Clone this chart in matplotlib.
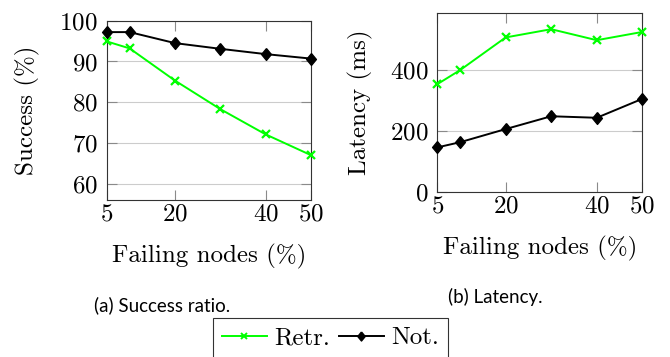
import matplotlib
matplotlib.use("Agg")
import matplotlib.pyplot as plt
from matplotlib.lines import Line2D

failing = [5, 10, 20, 30, 40, 50]
success_retr = [94.9, 93.2, 85.3, 78.3, 72.1, 67.0]
success_not = [97.2, 97.2, 94.5, 93.1, 91.8, 90.7]
latency_retr = [352, 398, 505, 532, 496, 523]
latency_not = [145, 162, 205, 247, 242, 304]
xticks = [5, 20, 40, 50]
success_ticks = [60, 70, 80, 90, 100]
latency_ticks = [0, 200, 400]

plt.rcParams['font.family'] = ['cmr10', 'DejaVu Serif']
plt.rcParams['mathtext.fontset'] = 'cm'
plt.rcParams['axes.formatter.use_mathtext'] = True

W, H = 670, 357
fig = plt.figure(figsize=(W / 100, H / 100), dpi=100)

GREEN = '#00ff00'
FS = 18
DIAMOND = [(0, 1), (0.83, 0), (0, -1), (-0.83, 0), (0, 1)]

def px_axes(x0, y0, x1, y1):
    return fig.add_axes([x0 / W, 1 - y1 / H, (x1 - x0) / W, (y1 - y0) / H])

def style(ax, yticks, ylabel_x):
    ax.set_xlim(5, 50)
    ax.set_xticks(xticks)
    ax.set_yticks(yticks)
    ax.tick_params(direction='in', top=True, right=True, labelsize=FS,
                   length=7, width=0.8, color='#8a8a8a')
    ax.tick_params(axis='x', pad=2.5)
    ax.tick_params(axis='y', pad=6.5)
    ax.yaxis.grid(True, color='#cccccc', linewidth=0.8)
    ax.set_axisbelow(True)
    for s in ax.spines.values():
        s.set_linewidth(0.8)
        s.set_color('#333333')
    ax.set_xlabel('Failing nodes (%)', fontsize=FS, va='top')
    ax.xaxis.set_label_coords(0.5, -0.245)
    ax.yaxis.set_label_coords(ylabel_x, 0.5)

def draw(ax, retr, nott):
    ax.plot(failing, retr, color=GREEN, marker='x', markersize=6,
            markeredgewidth=1.6, linewidth=1.4, clip_on=False, zorder=3)
    ax.plot(failing, nott, color='black', marker=DIAMOND, markersize=8.5,
            linewidth=1.4, clip_on=False, zorder=3)

ax1 = px_axes(107, 20.7, 311, 200)
draw(ax1, success_retr, success_not)
ax1.set_ylim(56, 100)
ax1.set_ylabel('Success (%)', fontsize=FS)
style(ax1, success_ticks, -0.33)

ax2 = px_axes(437.3, 12.7, 642.3, 191.7)
draw(ax2, latency_retr, latency_not)
ax2.set_ylim(0, 586)
ax2.set_ylabel('Latency (ms)', fontsize=FS)
style(ax2, latency_ticks, -0.315)

fig.text(162 / W, 1 - 305 / H, '(a) Success ratio.', fontsize=13.5,
         family=['Lato'], ha='center', va='center')
fig.text(495 / W, 1 - 297 / H, '(b) Latency.', fontsize=13.5,
         family=['Lato'], ha='center', va='center')

h_retr = Line2D([], [], color=GREEN, marker='x', markersize=4,
                markeredgewidth=1.4, linewidth=1.4)
h_not = Line2D([], [], color='black', marker=DIAMOND, markersize=6.5,
               linewidth=1.4)
leg = fig.legend([h_retr, h_not], ['Retr.', 'Not.'], loc='upper left',
                 bbox_to_anchor=(213 / W, 1 - 318 / H), ncol=2, fontsize=FS,
                 frameon=True, fancybox=False, edgecolor='black',
                 handlelength=1.8, handletextpad=0.3, columnspacing=0.35,
                 borderpad=0.35, borderaxespad=0)
leg.get_frame().set_linewidth(0.8)

fig.savefig('out.png', dpi=100)
